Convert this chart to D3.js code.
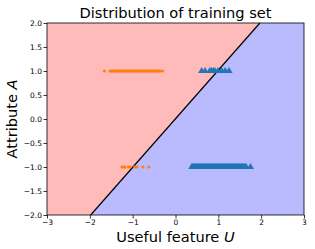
<!DOCTYPE html>
<html><head><meta charset="utf-8">
<script src="https://cdn.jsdelivr.net/npm/d3@7"></script>
<style>body{margin:0;background:#fff}svg{display:block}text{font-family:"DejaVu Sans",sans-serif}</style>
</head><body>
<script>
const xTicks = [-3,-2,-1,0,1,2,3];
const yTicks = [-2.0,-1.5,-1.0,-0.5,0.0,0.5,1.0,1.5,2.0];
const boundary = [[-1.98,-2],[1.97,2]];
// group: orange circles (label 0) and blue triangles (label 1)
const orangeTopU = [-1.66,-1.53,-1.5,-1.47,-1.44,-1.41,-1.38,-1.35,-1.32,-1.29,-1.26,-1.23,-1.2,-1.17,-1.14,-1.11,-1.08,-1.05,-1.02,-0.99,-0.96,-0.93,-0.9,-0.87,-0.84,-0.81,-0.78,-0.75,-0.72,-0.69,-0.66,-0.63,-0.6,-0.57,-0.54,-0.51,-0.48,-0.45,-0.42,-0.39,-0.36,-0.3];
const orangeBottomU = [-1.25,-1.21,-1.18,-1.1,-1.06,-0.95,-0.9,-0.76,-0.62];
const blueTopU = [0.61,0.69,0.8,0.84,0.88,0.92,0.99,1.08,1.16,1.25];
const blueBottomU = [0.38,0.4,0.42,0.44,0.46,0.48,0.5,0.52,0.54,0.56,0.58,0.6,0.62,0.64,0.66,0.68,0.7,0.72,0.74,0.76,0.78,0.8,0.82,0.84,0.86,0.88,0.9,0.92,0.94,0.96,0.98,1.0,1.02,1.04,1.06,1.08,1.1,1.12,1.14,1.16,1.18,1.2,1.22,1.24,1.26,1.28,1.3,1.32,1.34,1.36,1.38,1.4,1.42,1.44,1.46,1.48,1.5,1.52,1.54,1.56,1.58,1.6,1.62,1.65,1.75];

const W=315,H=249, m={l:47,r:11,t:23,b:34};
const svg=d3.select("body").append("svg").attr("width",W).attr("height",H);
const x=d3.scaleLinear().domain([-3,3]).range([m.l,W-m.r]);
const y=d3.scaleLinear().domain([-2,2]).range([H-m.b,m.t]);

svg.append("path").attr("fill","rgb(255,186,186)")
  .attr("d",d3.line()([[x(-3),y(2)],[x(boundary[1][0]),y(2)],[x(boundary[0][0]),y(-2)],[x(-3),y(-2)]]));
svg.append("path").attr("fill","rgb(186,186,255)")
  .attr("d",d3.line()([[x(boundary[1][0]),y(2)],[x(3),y(2)],[x(3),y(-2)],[x(boundary[0][0]),y(-2)]]));
svg.append("line").attr("x1",x(boundary[0][0])).attr("y1",y(boundary[0][1]))
  .attr("x2",x(boundary[1][0])).attr("y2",y(boundary[1][1])).attr("stroke","#000").attr("stroke-width",1.2);

const g=svg.append("g");
const orange=[...orangeTopU.map(u=>[u,1]),...orangeBottomU.map(u=>[u,-1])];
const blue=[...blueTopU.map(u=>[u,1]),...blueBottomU.map(u=>[u,-1])];
g.selectAll("circle").data(orange).join("circle").attr("cx",d=>x(d[0])).attr("cy",d=>y(d[1]))
  .attr("r",1.6).attr("fill","#ff7f0e");
const tri=d3.symbol().type(d3.symbolTriangle).size(22);
g.selectAll("path.t").data(blue).join("path").attr("class","t")
  .attr("transform",d=>`translate(${x(d[0])},${y(d[1])})`).attr("d",tri).attr("fill","#1f77b4");

const xa=svg.append("g").attr("transform",`translate(0,${H-m.b})`)
  .call(d3.axisBottom(x).tickValues(xTicks).tickSize(3.5).tickPadding(1.5).tickFormat(d=>d<0?"\u2212"+Math.abs(d):d));
const ya=svg.append("g").attr("transform",`translate(${m.l},0)`)
  .call(d3.axisLeft(y).tickValues(yTicks).tickSize(3.5).tickPadding(1.5).tickFormat(d=>{const s=Math.abs(d).toFixed(1);return d<0?"\u2212"+s:s;}));
[xa,ya].forEach(a=>{a.selectAll("text").attr("font-size",7.5).attr("fill","#000").style("font-family","DejaVu Sans");
  a.select(".domain").remove(); a.selectAll("line").attr("stroke","#000").attr("stroke-width",0.8);});
svg.append("rect").attr("x",m.l).attr("y",m.t).attr("width",W-m.r-m.l).attr("height",H-m.t-m.b)
  .attr("fill","none").attr("stroke","#000").attr("stroke-width",0.8);

svg.append("text").attr("x",(m.l+W-m.r)/2).attr("y",18).attr("text-anchor","middle").attr("font-size",14.6).text("Distribution of training set");
const xl=svg.append("text").attr("x",(m.l+W-m.r)/2).attr("y",242).attr("text-anchor","middle").attr("font-size",14.6);
xl.append("tspan").text("Useful feature ");
xl.append("tspan").attr("font-style","italic").text("U");
const yl=svg.append("text").attr("transform",`translate(17,${(m.t+H-m.b)/2}) rotate(-90)`).attr("text-anchor","middle").attr("font-size",14.6);
yl.append("tspan").text("Attribute ");
yl.append("tspan").attr("font-style","italic").text("A");
</script>
</body></html>
